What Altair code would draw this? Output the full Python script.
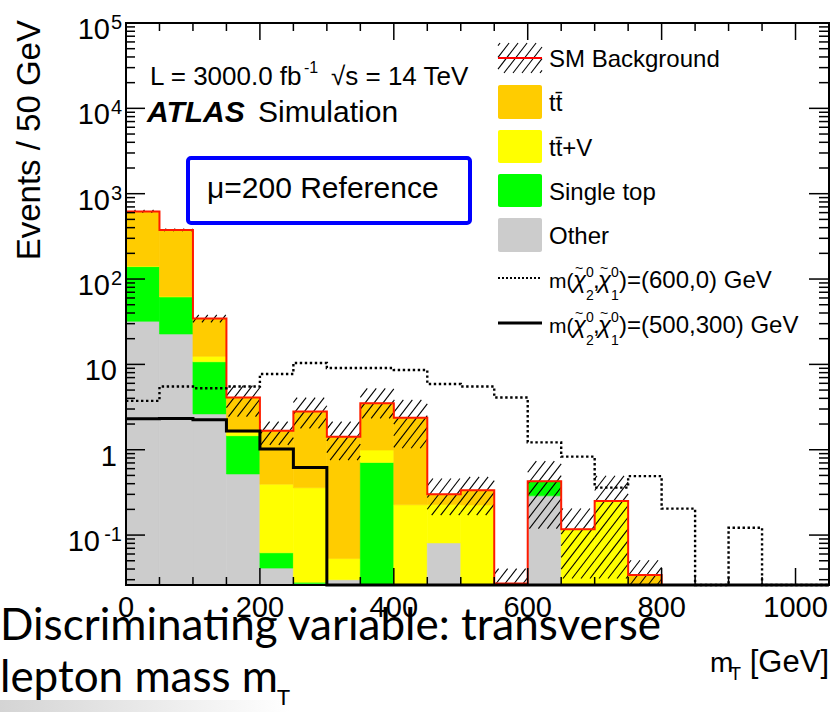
import altair as alt
import numpy as np
import pandas as pd

# ---------------- m_T histogram, events per 50 GeV bin ----------------
bin_edges = list(range(0, 1100, 50))          # 0 ... 1050 GeV
bin_lo = bin_edges[:-1]                       # 21 bins

# stacked SM backgrounds (bottom to top)
other      = [32.0, 22.7, 2.63, 0.52, 0.041, 0.027, 0.030, 0.0, 0.0, 0.081, 0.0,
              0.0, 0.288, 0.0, 0.0, 0.0, 0.0, 0.0, 0.0, 0.0, 0.0]
single_top = [108.0, 39.0, 8.1, 0.94, 0.021, 0.001, 0.0, 0.71, 0.0, 0.0, 0.0,
              0.0, 0.14, 0.0, 0.0, 0.0, 0.0, 0.0, 0.0, 0.0, 0.0]
ttbar_v    = [2.0, 1.0, 1.7, 0.14, 0.333, 0.33, 0.023, 0.28, 0.226, 0.147, 0.225,
              0.0, 0.0, 0.117, 0.25, 0.0, 0.0, 0.0, 0.0, 0.0, 0.0]
ttbar      = [478.0, 314.0, 22.0, 2.5, 1.27, 2.44, 1.37, 2.51, 2.15, 0.072, 0.11,
              0.027, 0.0, 0.0, 0.0, 0.034, 0.0, 0.0, 0.0, 0.0, 0.0]

# total-background uncertainty band
band_lo = [600, 365, 31.0, 2.44, 1.14, 1.78, 0.757, 2.33, 1.04, 0.171, 0.171,
           0.02, 0.119, 0.031, 0.031, 0.02, 0, 0, 0, 0, 0]
band_hi = [645, 390, 38.0, 5.64, 2.13, 4.08, 2.13, 5.24, 3.83, 0.46, 0.48,
           0.0405, 0.736, 0.205, 0.495, 0.0507, 0, 0, 0, 0, 0]

# signal benchmark points
sig_600_0   = [3.74, 5.5, 5.26, 5.5, 7.7, 10.4, 9.06, 9.06, 8.6, 5.9, 5.5,
               4.09, 1.22, 0.83, 0.36, 0.49, 0.204, 0.0, 0.122, 0.0, 0.0]
sig_500_300 = [2.3, 2.32, 2.24, 1.66, 1.02, 0.62, 0.0, 0.0, 0.0, 0.0, 0.0,
               0.0, 0.0, 0.0, 0.0, 0.0, 0.0, 0.0, 0.0, 0.0, 0.0]

processes = ["Other", "Single top", "tt+V", "tt"]
proc_colors = ["#cccccc", "#00ff00", "#ffff00", "#ffcc00"]

# axis ticks and labels
x_tick_major = [0, 200, 400, 600, 800, 1000]
y_tick_vals = [0.1, 1, 10, 100, 1000, 10000, 100000]
y_tick_base = ["10", "1", "10", "10", "10", "10", "10"]
y_tick_exp = ["-1", "", "", "2", "3", "4", "5"]

# ---------------- layout ----------------
W, H = 703, 562
XMAX = 1050
YMIN, YMAX = 0.026, 1e5
ROOT_FONT = "Liberation Sans"
LOG_SPAN = np.log10(YMAX) - np.log10(YMIN)

xs = alt.Scale(domain=[0, XMAX], nice=False, zero=False)
ys = alt.Scale(type="log", domain=[YMIN, YMAX], nice=False, clamp=True)


def X(f):
    return alt.X(f, type="quantitative", scale=xs, axis=None)


def Y(f):
    return alt.Y(f, type="quantitative", scale=ys, axis=None)


def one_row():
    return pd.DataFrame({"k": [0]})


def px_to_x(u):
    return u * XMAX / W


def px_to_y(v_down):
    return 10 ** (np.log10(YMIN) + (H - v_down) / H * LOG_SPAN)


def y_to_px(y):
    return H - (np.log10(y) - np.log10(YMIN)) / LOG_SPAN * H


def hatch(u0, u1, v0, v1, spacing=9.0, slope=1.3):
    """Diagonal hatch segments inside a pixel box (v measured upward)."""
    segs = []
    step = slope * spacing
    k0 = int(np.ceil((v0 - slope * u1) / step))
    k1 = int(np.floor((v1 - slope * u0) / step))
    for k in range(k0, k1 + 1):
        c = k * step
        ua = max(u0, (v0 - c) / slope)
        ub = min(u1, (v1 - c) / slope)
        if ub - ua > 0.4:
            segs.append((ua, slope * ua + c, ub, slope * ub + c))
    return segs


def label(text, x, y, size, font=ROOT_FONT, align="left", **kw):
    return alt.Chart(pd.DataFrame({"t": [text]})).mark_text(
        align=align, baseline="alphabetic", fontSize=size, font=font,
        color="black", **kw
    ).encode(text="t:N", x=alt.value(x), y=alt.value(y))


layers = []

# ---------------- stacked background fills ----------------
rows = []
for i, lo in enumerate(bin_lo):
    cum = 0.0
    for name, arr in zip(processes, [other, single_top, ttbar_v, ttbar]):
        v = arr[i]
        if v <= 0:
            continue
        y0 = max(cum, YMIN)
        cum += v
        if cum > YMIN:
            rows.append({"x0": lo, "x1": lo + 50, "y0": y0, "y1": cum, "proc": name})
stack_df = pd.DataFrame(rows)
proc_scale = alt.Scale(domain=processes, range=proc_colors)
layers.append(
    alt.Chart(stack_df).mark_rect(strokeWidth=0.6).encode(
        x=X("x0"), x2="x1", y=Y("y0"), y2="y1",
        fill=alt.Fill("proc:N", scale=proc_scale, legend=None),
        stroke=alt.Stroke("proc:N", scale=proc_scale, legend=None),
    )
)

# ---------------- hatched uncertainty band ----------------
hrows = []
for i, lo in enumerate(bin_lo):
    if band_hi[i] <= 0:
        continue
    u0, u1 = lo * W / XMAX, (lo + 50) * W / XMAX
    v0 = H - y_to_px(max(band_lo[i], YMIN))
    v1 = H - y_to_px(band_hi[i])
    for ua, va, ub, vb in hatch(u0, u1, v0, v1):
        hrows.append({"xa": px_to_x(ua), "ya": px_to_y(H - va),
                      "xb": px_to_x(ub), "yb": px_to_y(H - vb)})
# legend swatch for the SM background
for ua, va, ub, vb in hatch(372, 416, 0, 30):
    hrows.append({"xa": px_to_x(ua), "ya": px_to_y(50 - va),
                  "xb": px_to_x(ub), "yb": px_to_y(50 - vb)})
hatch_df = pd.DataFrame(hrows)
layers.append(
    alt.Chart(hatch_df).mark_rule(color="black", strokeWidth=1.1).encode(
        x=X("xa"), y=Y("ya"), x2="xb", y2="yb"
    )
)


# ---------------- step outlines ----------------
def step_frame(values):
    vals = [max(v, YMIN) for v in values]
    return pd.DataFrame({"x": bin_edges, "v": vals + [vals[-1]]})


total = [a + b + c + d for a, b, c, d in zip(other, single_top, ttbar_v, ttbar)]
layers.append(
    alt.Chart(step_frame(total)).mark_line(
        interpolate="step-after", color="#ff1a00", strokeWidth=2
    ).encode(x=X("x"), y=Y("v"))
)
layers.append(
    alt.Chart(step_frame(sig_600_0)).mark_line(
        interpolate="step-after", color="black", strokeWidth=2.4, strokeDash=[2.4, 2.6]
    ).encode(x=X("x"), y=Y("v"))
)
layers.append(
    alt.Chart(step_frame(sig_500_300)).mark_line(
        interpolate="step-after", color="black", strokeWidth=3
    ).encode(x=X("x"), y=Y("v"))
)

# ---------------- frame and inward ticks ----------------
layers.append(
    alt.Chart(one_row()).mark_rect(filled=False, color="black", strokeWidth=2).encode(
        x=alt.value(0), x2=alt.value(W), y=alt.value(0), y2=alt.value(H)
    )
)
x_minor = [v for v in range(50, XMAX, 50) if v not in x_tick_major]
xmaj_df = pd.DataFrame({"x": x_tick_major})
xmin_df = pd.DataFrame({"x": x_minor})
for df, ln in [(xmaj_df, 17), (xmin_df, 8)]:
    layers.append(alt.Chart(df).mark_rule(color="black", strokeWidth=1.5).encode(
        x=X("x"), y=alt.value(H), y2=alt.value(H - ln)))
    layers.append(alt.Chart(df).mark_rule(color="black", strokeWidth=1.5).encode(
        x=X("x"), y=alt.value(0), y2=alt.value(ln)))

y_minor = [m * 10.0 ** d for d in range(-2, 5) for m in range(2, 10)
           if YMIN <= m * 10.0 ** d <= YMAX]
ymaj_df = pd.DataFrame({"y": y_tick_vals})
ymin_df = pd.DataFrame({"y": y_minor})
for df, ln in [(ymaj_df, 19), (ymin_df, 9)]:
    layers.append(alt.Chart(df).mark_rule(color="black", strokeWidth=1.5).encode(
        y=Y("y"), x=alt.value(0), x2=alt.value(ln)))
    layers.append(alt.Chart(df).mark_rule(color="black", strokeWidth=1.5).encode(
        y=Y("y"), x=alt.value(W), x2=alt.value(W - ln - 1)))

# ---------------- tick labels ----------------
layers.append(
    alt.Chart(pd.DataFrame({"x": x_tick_major, "t": [str(v) for v in x_tick_major]}))
    .mark_text(align="center", baseline="alphabetic", fontSize=29, font=ROOT_FONT, color="black")
    .encode(x=X("x"), y=alt.value(594), text="t:N")
)
ylab = pd.DataFrame({"y": y_tick_vals, "base": y_tick_base, "exp": y_tick_exp})
ylab["n"] = ylab["exp"].str.len()
EXP_SIZE = 20
for n, grp in ylab.groupby("n"):
    if n == 0:
        bx = -9
    else:
        bx = -4 - int(round(0.5 * EXP_SIZE * n)) - 2
    layers.append(
        alt.Chart(grp).mark_text(align="right", baseline="alphabetic", fontSize=29,
                                 font=ROOT_FONT, color="black", dy=16)
        .encode(y=Y("y"), x=alt.value(bx), text="base:N")
    )
exp_df = ylab[ylab["n"] > 0]
layers.append(
    alt.Chart(exp_df).mark_text(align="right", baseline="alphabetic", fontSize=EXP_SIZE,
                                font=ROOT_FONT, color="black", dy=6)
    .encode(y=Y("y"), x=alt.value(-4), text="exp:N")
)

# ---------------- axis titles ----------------
layers.append(label("Events / 50 GeV", -86, -3, 33, align="right", angle=270))
layers.append(label("m", 584, 649, 28))
layers.append(label("T", 604, 657, 18))
layers.append(label("[GeV]", 703, 649, 31, align="right"))

# ---------------- plot annotations ----------------
layers.append(label("L = 3000.0 fb", 24, 62, 26))
layers.append(label("-1", 178, 50, 16))
layers.append(label("√s = 14 TeV", 205, 62, 26))
layers.append(label("ATLAS", 21, 99, 30, fontWeight="bold", fontStyle="italic"))
layers.append(label("Simulation", 132, 99, 30))
layers.append(
    alt.Chart(one_row()).mark_rect(filled=False, color="#0000ff", strokeWidth=4,
                                   cornerRadius=3).encode(
        x=alt.value(62), x2=alt.value(344), y=alt.value(135), y2=alt.value(200))
)
layers.append(label("μ=200 Reference", 81, 175, 30))

# ---------------- legend ----------------
layers.append(
    alt.Chart(one_row()).mark_rule(color="#ff0000", strokeWidth=2).encode(
        x=alt.value(372), x2=alt.value(416), y=alt.value(35))
)
swatch_rows = [(62, 96, "#ffcc00"), (107, 140, "#ffff00"),
               (151, 184, "#00ff00"), (195, 229, "#cccccc")]
for top, bot, col in swatch_rows:
    layers.append(
        alt.Chart(one_row()).mark_rect(color=col, cornerRadius=2).encode(
            x=alt.value(372), x2=alt.value(416), y=alt.value(top), y2=alt.value(bot))
    )
LEG = 24
layers.append(label("SM Background", 423, 44, LEG))
layers.append(label("tt\u0304", 423, 88, LEG))
layers.append(label("tt\u0304+V", 423, 133, LEG))
layers.append(label("Single top", 423, 177, LEG))
layers.append(label("Other", 423, 221, LEG))

layers.append(
    alt.Chart(one_row()).mark_rule(color="black", strokeWidth=2, strokeDash=[2, 2]).encode(
        x=alt.value(372), x2=alt.value(416), y=alt.value(255))
)
layers.append(
    alt.Chart(one_row()).mark_rule(color="black", strokeWidth=3).encode(
        x=alt.value(372), x2=alt.value(416), y=alt.value(300))
)
for dy, tail in [(0, ")=(600,0) GeV"), (45, ")=(500,300) GeV")]:
    base = 265 + dy
    layers.append(label("m(", 423, base, 21))
    layers.append(label("χ", 447, base, LEG, fontStyle="italic"))
    layers.append(label("~", 449, base - 15, 14))
    layers.append(label("0", 460, base - 11, 14))
    layers.append(label("2", 460, base + 12, 14))
    layers.append(label(",", 467, base, LEG))
    layers.append(label("χ", 472, base, LEG, fontStyle="italic"))
    layers.append(label("~", 474, base - 15, 14))
    layers.append(label("0", 485, base - 11, 14))
    layers.append(label("1", 485, base + 12, 14))
    layers.append(label(tail, 493, base, LEG))

# ---------------- caption below the plot ----------------
layers.append(
    alt.Chart(one_row()).mark_rect(
        fill=alt.Gradient(gradient="linear", x1=0, x2=1, y1=0, y2=0,
                          stops=[alt.GradientStop(color="#d4d4d4", offset=0),
                                 alt.GradientStop(color="#ffffff", offset=1)])
    ).encode(x=alt.value(-126), x2=alt.value(164), y=alt.value(677), y2=alt.value(689))
)
CAP_FONT = "Lato"
layers.append(label("Discriminating variable: transverse", -126, 617, 44, font=CAP_FONT))
layers.append(label("lepton mass m", -126, 669, 44, font=CAP_FONT))
layers.append(label("T", 151, 682, 22, font=CAP_FONT))

chart = alt.layer(*layers).properties(
    width=W, height=H,
    autosize=alt.AutoSizeParams(type="none"),
    padding={"left": 126, "top": 23, "right": 3, "bottom": 127},
    background="white",
).configure_view(stroke=None)

chart.save("out.html", embed_options={"renderer": "svg", "actions": False})
